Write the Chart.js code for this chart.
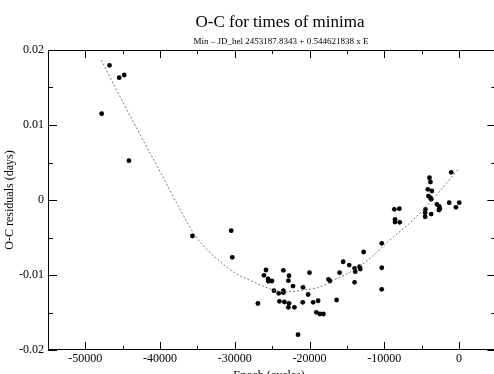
<!DOCTYPE html>
<html>
<head>
<meta charset="utf-8">
<script src="https://cdn.jsdelivr.net/npm/chart.js@4"></script>
<style>
    body { margin: 0; background: #ffffff; }
    canvas { display: block; background: #ffffff; }
</style>
</head>
<body>
<canvas id="ocChart" width="494" height="374"></canvas>
<script>
// observed minima: epoch (cycles) and O-C residual (days)
var epochs = [
    -46770, -45470, -44800, -47820, -44170, -35670, -30480, -30340,
    -26910, -25830, -26100, -25560, -25510, -25030, -23500, -22750, -22830, -22210,
    -24760, -24130, -23500, -23500, -24030, -23360, -22750, -22830, -22020, -21540,
    -20910, -20870, -20190, -20010, -19520, -18850, -19090, -18620, -18150,
    -17460, -17280, -16380, -15980, -15500, -14690, -13970, -13890, -13300, -13210,
    -13970, -12760, -10340, -10340, -10340,
    -8650, -7980, -8560, -8560, -7930, -1040, -3950, -3820, -4170, -3630, -4090,
    -3820, -3720, -2960, -2650, -2560, -2690, -1310, 30, -410, -4490, -4530, -4530, -3720
];
var residuals = [
    0.01796, 0.01631, 0.01667, 0.01151, 0.00524, -0.0048, -0.00409, -0.00764,
    -0.0138, -0.00933, -0.01004, -0.01053, -0.01084, -0.0108, -0.00937, -0.01009, -0.01076, -0.01147,
    -0.01209, -0.01244, -0.01236, -0.01209, -0.01351, -0.0136, -0.01377, -0.01431, -0.01431, -0.01796,
    -0.01364, -0.01164, -0.0126, -0.00969, -0.01364, -0.01343, -0.01497, -0.0152, -0.0152,
    -0.01057, -0.0108, -0.01333, -0.00969, -0.00823, -0.00867, -0.00911, -0.00956, -0.00889, -0.0092,
    -0.01097, -0.00693, -0.00577, -0.00903, -0.01191,
    -0.00124, -0.00116, -0.00257, -0.00293, -0.00297, 0.00369, 0.00297, 0.0024, 0.00143, 0.0012, 0.00053,
    0.00031, 0.00009, -0.00057, -0.00084, -0.00116, -0.00133, -0.00036, -0.00036, -0.00097, -0.00124, -0.00169, -0.00223, -0.00187
];

// fitted curve
var fitEpochs = [-47890, -45340, -42650, -39970, -37280, -35270, -33520, -31910, -30170,
    -27480, -24800, -22920, -20770, -18490, -16750, -14060, -11780, -9500, -6010, -2790, -100];
var fitResiduals = [0.01867, 0.01373, 0.00867, 0.00373, -0.00133, -0.0048, -0.0068, -0.00827, -0.0096,
    -0.01093, -0.012, -0.01223, -0.012, -0.01156, -0.01067, -0.00933, -0.00767, -0.00556, -0.00253, 0.00093, 0.00413];

var xTicks = [-50000, -40000, -30000, -20000, -10000, 0];
var yTicks = [-0.02, -0.01, 0, 0.01, 0.02];
var xFrameEnd = 5000; // right frame sits just past the picture edge

var titleText = 'O-C for times of minima';
var subtitleText = 'Min \u2013 JD_hel 2453187.8343 + 0.544621838 x E';

var serif = '"Liberation Serif", "DejaVu Serif", serif';

function toPoints(xs, ys) {
    var pts = [];
    for (var i = 0; i < xs.length; i++) {
        pts.push({ x: xs[i], y: ys[i] });
    }
    return pts;
}

function midpoints(arr) {
    var out = [];
    for (var i = 0; i < arr.length - 1; i++) {
        out.push((arr[i] + arr[i + 1]) / 2);
    }
    return out;
}

// frame, inward ticks and titles
var framePlugin = {
    id: 'frame',
    afterDraw: function (chart) {
        var ctx = chart.ctx;
        var a = chart.chartArea;
        var xs = chart.scales.x;
        var ys = chart.scales.y;
        var right = xs.getPixelForValue(xFrameEnd);
        ctx.save();
        ctx.strokeStyle = '#000000';
        ctx.lineWidth = 1;
        ctx.beginPath();
        ctx.moveTo(right, a.top + 0.5);
        ctx.lineTo(a.left + 0.5, a.top + 0.5);
        ctx.lineTo(a.left + 0.5, a.bottom - 0.5);
        ctx.lineTo(right, a.bottom - 0.5);
        ctx.stroke();

        function xTick(v, len) {
            var px = Math.round(xs.getPixelForValue(v)) + 0.5;
            ctx.beginPath();
            ctx.moveTo(px, a.bottom);
            ctx.lineTo(px, a.bottom - len);
            ctx.moveTo(px, a.top);
            ctx.lineTo(px, a.top + len);
            ctx.stroke();
        }
        function yTick(v, len) {
            var py = Math.round(ys.getPixelForValue(v)) + 0.5;
            ctx.beginPath();
            ctx.moveTo(a.left, py);
            ctx.lineTo(a.left + len, py);
            ctx.moveTo(right, py);
            ctx.lineTo(right - len, py);
            ctx.stroke();
        }
        xTicks.forEach(function (v) { xTick(v, 8); });
        midpoints(xTicks).forEach(function (v) { xTick(v, 4); });
        yTicks.forEach(function (v) { yTick(v, 9); });
        midpoints(yTicks).forEach(function (v) { yTick(v, 5); });

        ctx.fillStyle = '#000000';
        ctx.textAlign = 'center';
        ctx.textBaseline = 'alphabetic';
        ctx.font = '17px ' + serif;
        ctx.fillText(titleText, 280, 27);
        ctx.font = '9px ' + serif;
        ctx.fillText(subtitleText, 281, 44);
        ctx.restore();
    }
};

var ctx = document.getElementById('ocChart').getContext('2d');
var ocChart = new Chart(ctx, {
    type: 'scatter',
    data: {
        datasets: [{
            label: 'Fit',
            data: toPoints(fitEpochs, fitResiduals),
            showLine: true,
            borderColor: '#777777',
            borderWidth: 1,
            borderDash: [2, 2],
            pointRadius: 0,
            cubicInterpolationMode: 'monotone',
            fill: false
        },
        {
            label: 'O-C',
            data: toPoints(epochs, residuals),
            backgroundColor: '#000000',
            borderWidth: 0,
            pointRadius: 2.4
        }]
    },
    options: {
        responsive: false,
        animation: false,
        layout: {
            padding: { top: 50, right: 0, bottom: 0, left: 0 }
        },
        plugins: {
            legend: { display: false },
            tooltip: { enabled: false }
        },
        scales: {
            x: {
                type: 'linear',
                min: -55000,
                max: 4150,
                grid: { display: false, drawTicks: false },
                border: { display: false },
                afterBuildTicks: function (scale) {
                    scale.ticks = xTicks.map(function (v) { return { value: v }; });
                },
                afterFit: function (scale) {
                    scale.height = 24;
                    scale.paddingLeft = 0;
                    scale.paddingRight = 0;
                },
                ticks: {
                    color: '#000000',
                    padding: 2,
                    maxRotation: 0,
                    font: { family: serif, size: 12 },
                    callback: function (v) { return String(v); }
                },
                title: {
                    display: true,
                    text: 'Epoch (cycles)',
                    color: '#000000',
                    font: { family: serif, size: 12 },
                    padding: { top: 0, bottom: -9 }
                }
            },
            y: {
                type: 'linear',
                min: -0.02,
                max: 0.02,
                grid: { display: false, drawTicks: false },
                border: { display: false },
                afterBuildTicks: function (scale) {
                    scale.ticks = yTicks.map(function (v) { return { value: v }; });
                },
                afterFit: function (scale) {
                    scale.width = 48;
                    scale.paddingTop = 0;
                    scale.paddingBottom = 0;
                },
                ticks: {
                    color: '#000000',
                    padding: 4,
                    font: { family: serif, size: 12 },
                    callback: function (v) { return String(v); }
                },
                title: {
                    display: true,
                    text: 'O-C residuals (days)',
                    color: '#000000',
                    font: { family: serif, size: 12 },
                    padding: { top: 3, bottom: 0 }
                }
            }
        }
    },
    plugins: [framePlugin]
});
</script>
</body>
</html>
